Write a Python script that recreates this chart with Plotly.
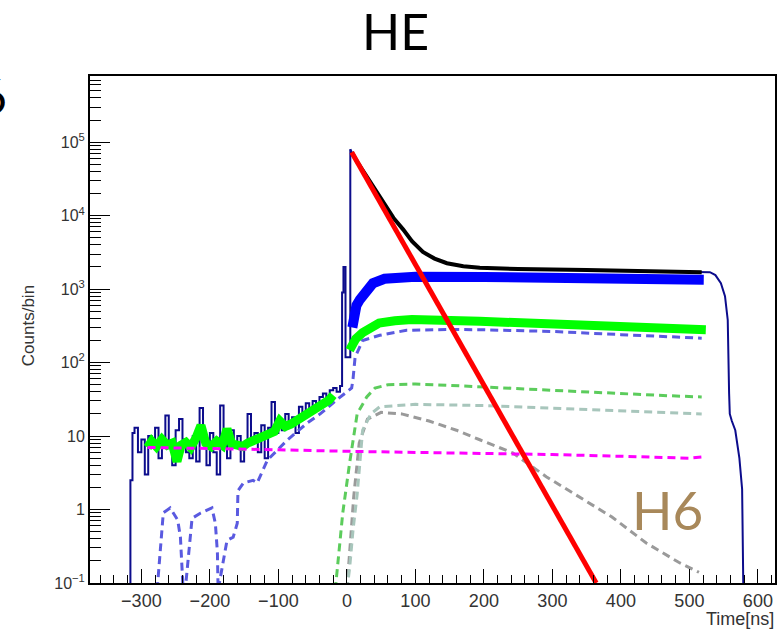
import plotly.graph_objects as go

# ---------------- data ----------------
# measured histogram (navy), before the prompt peak: step line
navy_pre_x = [-330, -316, -313,
              -310, -305, -300, -295, -290, -285, -280, -275, -270, -265,
              -260, -255, -250, -245, -240, -235, -230, -225, -220, -215,
              -210, -205, -200, -195, -190, -185, -180, -175, -170, -165,
              -160, -155, -150, -145, -140, -135, -130, -125, -120, -115,
              -110, -105, -100, -95, -90, -85, -80, -75, -70, -65,
              -60, -55, -50, -45, -40, -35, -30, -25, -20, -15, -10,
              -7, -5, -2, 5]
navy_pre_y = [0.01, 2.5, 11,
              13, 6, 9, 3, 10, 7, 13, 5, 9, 19,
              8, 4, 12, 17, 9, 6, 5, 10, 4.5, 24,
              8, 4, 11, 6, 3, 26, 9, 5, 12, 7,
              10, 4.5, 8, 20, 9, 11, 6, 14, 5, 13,
              29, 11, 16, 12, 20, 14, 18, 11, 25, 19,
              28, 22, 30, 26, 34, 38, 31, 42, 45, 40, 48,
              900, 2000, 118, 80000]
# measured histogram after the peak (hidden under the fit, visible at the end)
navy_post_x = [5, 7, 15, 30, 42, 55, 68, 82, 95, 111, 128, 146, 170, 194, 250,
               350, 450, 518, 530, 538, 546, 552, 556, 558, 559, 562, 567, 573, 577, 580]
navy_post_y = [80000, 73000, 54000, 33000, 22000, 14500, 9300, 6500, 4500, 3200, 2600, 2250,
               2050, 1950, 1880, 1820, 1760, 1720, 1700, 1550, 1200, 800, 380, 38,
               20, 16, 12, 5, 1.9, 0.01]

# fast component (red)
red_x = [7, 364]
red_y = [73000, 0.1]

# total fit (black)
black_x = [7, 15, 30, 42, 55, 68, 82, 95, 111, 128, 146, 170, 194, 250, 350, 450, 518]
black_y = [73000, 54000, 33000, 22000, 14500, 9300, 6500, 4500, 3200, 2600, 2250, 2050, 1950, 1880, 1820, 1760, 1700]

# blue thick component
blue_x = [8, 10, 14, 19, 27, 38, 55, 73, 100, 200, 300, 400, 521]
blue_y = [300, 420, 600, 720, 950, 1200, 1380, 1450, 1470, 1460, 1420, 1370, 1340]

# green thick component (before and after t=0)
green_pre_x = [-291, -285, -278, -270, -262, -255, -248, -242, -235, -228,
               -220, -213, -206, -198, -190, -182, -175, -168, -160, -152,
               -145, -138, -130, -122, -114, -106, -98, -90, -82, -74,
               -66, -58, -50, -42, -34, -26, -20]
green_pre_y = [7, 8.5, 7.2, 9, 7.5, 8, 4.5, 7.5, 8.2, 7,
               9.5, 14, 8, 7.2, 8.5, 7.5, 12.5, 7.8, 7.5, 7.2,
               8, 8.5, 9, 9.8, 10.5, 11.5, 16, 13.5, 14.5, 16,
               17.5, 19.5, 21.5, 24, 27, 31, 36]
green_post_x = [4, 8, 13, 23, 35, 47, 70, 95, 194, 300, 400, 524]
green_post_y = [148, 185, 210, 255, 310, 345, 370, 385, 365, 335, 305, 280]

# dashed components
dblue_x = [-277, -268, -258, -247, -243, -239, -236, -229, -226, -214, -197, -192, -189, -188,
           -175, -166, -160, -159, -151, -137, -131, -116, -102, -87, -58, -39, -15, 0, 7,
           9, 12, 23, 48, 87, 146, 194, 300, 400, 518]
dblue_y = [0.08, 0.9, 1.05, 0.72, 0.42, 0.08, 0.08, 0.38, 0.76, 0.89, 1.05, 0.65, 0.26, 0.08,
           0.38, 0.42, 0.65, 1.8, 2.3, 2.5, 2.3, 4.7, 6.4, 8.8, 15, 20, 31, 40, 45,
           60, 118, 200, 235, 275, 282, 280, 265, 240, 215]

dgreen_x = [-17, -6, 4, 15, 29, 41, 60, 100, 150, 250, 350, 450, 518]
dgreen_y = [0.08, 0.9, 4.3, 20, 34, 45, 50, 51, 49, 44, 40, 36, 34]

dteal_x = [0, 4, 9, 15, 23, 35, 48, 100, 200, 300, 400, 518]
dteal_y = [0.08, 0.16, 0.53, 1.6, 12, 20, 25, 27, 26, 24, 22, 20]

dgray_x = [0, 5, 10, 18, 30, 50, 80, 120, 160, 194, 242, 291, 339, 387, 437, 485, 514]
dgray_y = [0.08, 0.3, 1.5, 8, 17, 21, 20, 16, 12, 8.9, 5.9, 2.8, 1.5, 0.79, 0.35, 0.19, 0.14]

dmag_x = [-291, -200, -100, 0, 100, 194, 300, 400, 499, 520]
dmag_y = [7, 6.8, 6.5, 6.2, 6.0, 5.9, 5.6, 5.3, 5.0, 5.2]

# axis ticks
x_ticks = [-300, -200, -100, 0, 100, 200, 300, 400, 500, 600]
y_ticks = [0.1, 1, 10, 100, 1e3, 1e4, 1e5]
y_ticktext = ["10<sup>\u22121</sup>", "1", "10", "10<sup>2</sup>", "10<sup>3</sup>",
              "10<sup>4</sup>", "10<sup>5</sup>"]
y_minor = [k * 10.0 ** e for e in range(-1, 6) for k in range(2, 10)]

# ---------------- figure ----------------
W, H = 783, 629
L, R, T, B = 90, 777, 76, 583


def px(xp):
    return (xp - L) / (R - L)


def py(yp):
    return (B - yp) / (B - T)


DASH = "8px,5px"
NAVY = "#0c0c8c"
fig = go.Figure()

fig.add_trace(go.Scatter(x=navy_pre_x, y=navy_pre_y, mode="lines", line_shape="hv",
                         line=dict(color=NAVY, width=2)))
fig.add_trace(go.Scatter(x=navy_post_x, y=navy_post_y, mode="lines",
                         line=dict(color=NAVY, width=2)))
fig.add_trace(go.Scatter(x=dgray_x, y=dgray_y, mode="lines",
                         line=dict(color="#9a9a9a", width=3, dash=DASH)))
fig.add_trace(go.Scatter(x=dteal_x, y=dteal_y, mode="lines",
                         line=dict(color="#a8c6bc", width=3, dash=DASH)))
fig.add_trace(go.Scatter(x=dgreen_x, y=dgreen_y, mode="lines",
                         line=dict(color="#5ccc5c", width=3, dash=DASH)))
fig.add_trace(go.Scatter(x=dblue_x, y=dblue_y, mode="lines",
                         line=dict(color="#5a5ae0", width=3, dash=DASH)))
fig.add_trace(go.Scatter(x=green_pre_x, y=green_pre_y, mode="lines",
                         line=dict(color="#00ff00", width=9)))
fig.add_trace(go.Scatter(x=green_post_x, y=green_post_y, mode="lines",
                         line=dict(color="#00ff00", width=9)))
fig.add_trace(go.Scatter(x=dmag_x, y=dmag_y, mode="lines",
                         line=dict(color="#ff00ff", width=3, dash=DASH)))
fig.add_trace(go.Scatter(x=blue_x, y=blue_y, mode="lines",
                         line=dict(color="#0000ff", width=10)))
fig.add_trace(go.Scatter(x=black_x, y=black_y, mode="lines",
                         line=dict(color="#000000", width=4)))
fig.add_trace(go.Scatter(x=red_x, y=red_y, mode="lines",
                         line=dict(color="#ff0000", width=5)))

axis_font = dict(family="Liberation Sans, Arial, sans-serif", color="#333333")

fig.update_xaxes(range=[-375, 625], tickvals=x_ticks, ticks="inside", ticklen=14,
                 tickwidth=1, tickcolor="black", showline=True, linecolor="black",
                 linewidth=2, mirror=True, showgrid=False, zeroline=False,
                 tickfont=dict(size=18, **axis_font),
                 minor=dict(dtick=20, tick0=0, ticks="inside", ticklen=8,
                            tickcolor="black", tickwidth=1, showgrid=False))
fig.update_yaxes(type="log", range=[-1, 5.9], tickvals=y_ticks, ticktext=y_ticktext,
                 ticks="inside", ticklen=20, tickwidth=1, tickcolor="black",
                 showline=True, linecolor="black", linewidth=2, mirror=True,
                 showgrid=False, zeroline=False,
                 tickfont=dict(size=16, **axis_font),
                 minor=dict(tickvals=y_minor, ticks="inside", ticklen=11,
                            tickcolor="black", tickwidth=1, showgrid=False))

annotations = [
    dict(text="HE", x=px(396), y=py(31), xref="paper", yref="paper",
         showarrow=False, xanchor="center", yanchor="middle",
         font=dict(family="Lato, Open Sans, sans-serif", size=50, color="black")),
    dict(text="6", x=px(9), y=py(96), xref="paper", yref="paper",
         showarrow=False, xanchor="right", yanchor="middle",
         font=dict(family="Lato, Open Sans, sans-serif", size=48, color="black")),
    dict(text="H6", x=px(669), y=py(510), xref="paper", yref="paper",
         showarrow=False, xanchor="center", yanchor="middle",
         font=dict(family="Lato, Open Sans, sans-serif", size=53, color="#a8885a")),
    dict(text="Counts/bin", x=px(28), y=py(326), xref="paper", yref="paper",
         showarrow=False, xanchor="center", yanchor="middle", textangle=-90,
         font=dict(size=17, **axis_font)),
    dict(text="Time[ns]", x=px(778), y=py(619), xref="paper", yref="paper",
         showarrow=False, xanchor="right", yanchor="middle",
         font=dict(size=18, **axis_font)),
]

fig.update_layout(width=W, height=H, showlegend=False,
                  margin=dict(l=L, r=W - R, t=T, b=H - B, pad=0),
                  paper_bgcolor="white", plot_bgcolor="white",
                  annotations=annotations)

fig.write_html("out.html")
